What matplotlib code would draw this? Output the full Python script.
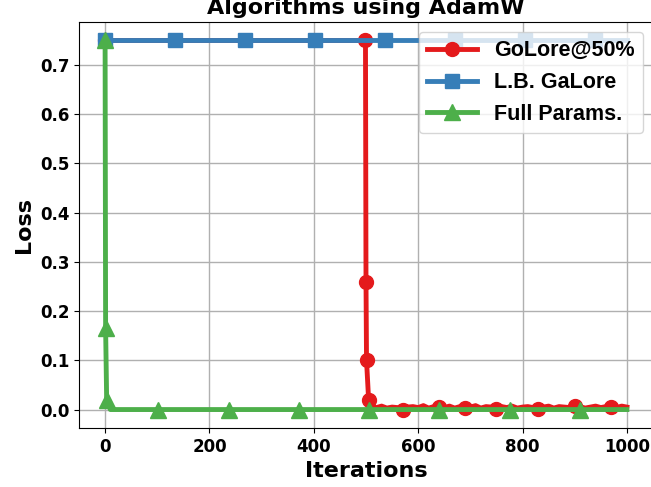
import matplotlib
matplotlib.use("Agg")
import matplotlib.pyplot as plt

# GoLore@50%: flat at 0.75 until iteration ~500, then drops to near zero
golore_iters = [0, 499, 500, 501, 505] + list(range(510, 1001, 10))
golore_loss = [0.75, 0.75, 0.26, 0.10, 0.02,
               0.006, 0.004, 0.007, 0.003, 0.005, 0.004, 0.000, 0.005, 0.006, 0.004,
               0.008, 0.003, 0.006, 0.005, 0.004, 0.007, 0.003, 0.006, 0.004, 0.005,
               0.008, 0.003, 0.006, 0.005, 0.002, 0.006, 0.004, 0.007, 0.003, 0.005,
               0.006, 0.004, 0.002, 0.005, 0.007, 0.003, 0.006, 0.005, 0.004, 0.008,
               0.006, 0.003, 0.005, 0.007, 0.004, 0.006, 0.006, 0.004, 0.007, 0.005]
golore_marks = [0, 499, 500, 501, 505, 570, 640, 690, 750, 830, 900, 970]

# L.B. GaLore: stays at 0.75
lbgalore_iters = [0, 134, 268, 402, 536, 670, 804, 938, 1000]
lbgalore_loss = [0.75, 0.75, 0.75, 0.75, 0.75, 0.75, 0.75, 0.75, 0.75]

# Full Params.: drops immediately
full_iters = [0, 1, 3, 10, 101, 237, 371, 506, 640, 776, 910, 1000]
full_loss = [0.75, 0.165, 0.02, 0.0, 0.0, 0.0, 0.0, 0.0, 0.0, 0.0, 0.0, 0.0]

xticks = [0, 200, 400, 600, 800, 1000]
yticks = [0.0, 0.1, 0.2, 0.3, 0.4, 0.5, 0.6, 0.7]

fig = plt.figure(figsize=(6.51, 4.87), dpi=100)
ax = fig.add_axes([79 / 651, 1 - 428 / 487, 574 / 651, 406 / 487])

ax.plot(golore_iters, golore_loss, color="#e41a1c", lw=3.5, marker="o", ms=10,
        markevery=[golore_iters.index(i) for i in golore_marks], label="GoLore@50%")
ax.plot(lbgalore_iters, lbgalore_loss, color="#377eb8", lw=3.5, marker="s", ms=10,
        markevery=list(range(len(lbgalore_iters) - 1)), label="L.B. GaLore")
ax.plot(full_iters, full_loss, color="#4daf4a", lw=3.5, marker="^", ms=11,
        markevery=[0, 1, 2] + list(range(4, len(full_iters) - 1)), label="Full Params.")

ax.set_xlim(-50, 1050)
ax.set_ylim(-0.0375, 0.7875)
ax.set_xticks(xticks)
ax.set_yticks(yticks)
ax.set_xticklabels([str(t) for t in xticks], fontsize=12, fontweight="bold")
ax.set_yticklabels(["%.1f" % t for t in yticks], fontsize=12, fontweight="bold")
ax.grid(True, color="#b0b0b0", lw=1)

ax.set_xlabel("Iterations", fontsize=16, fontweight="bold")
ax.set_ylabel("Loss", fontsize=16, fontweight="bold")
ax.set_title("Algorithms using AdamW", fontsize=16, fontweight="bold")

ax.legend(loc="upper right", handlelength=2.3, borderaxespad=0.45,
          prop={"family": "Liberation Sans", "weight": "bold", "size": 15.5})

fig.savefig("out.png", dpi=100)
